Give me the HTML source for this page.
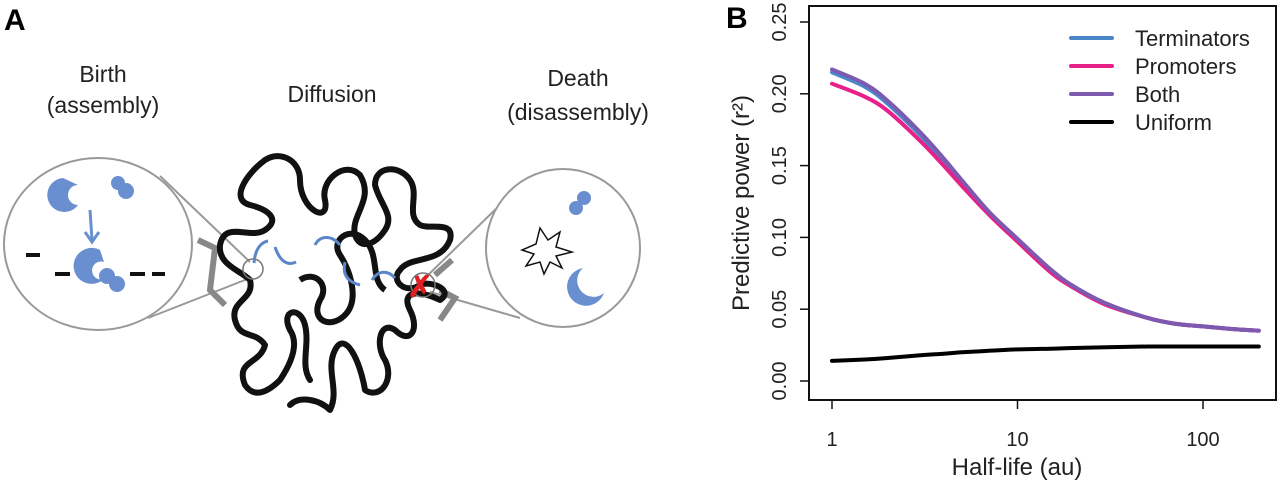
<!DOCTYPE html>
<html><head><meta charset="utf-8"><style>
body{margin:0;background:#fff;}
svg{display:block;font-family:"Liberation Sans",sans-serif;}
</style></head><body>
<svg width="1280" height="487" viewBox="0 0 1280 487">
<g>
<text x="4" y="30" font-size="30" font-weight="bold">A</text>
<text x="103" y="82" font-size="23" text-anchor="middle" fill="#222">Birth</text>
<text x="103" y="113" font-size="23" text-anchor="middle" fill="#222">(assembly)</text>
<text x="332" y="102" font-size="23" text-anchor="middle" fill="#222">Diffusion</text>
<text x="578" y="86" font-size="23" text-anchor="middle" fill="#222">Death</text>
<text x="578" y="120" font-size="23" text-anchor="middle" fill="#222">(disassembly)</text>
<g stroke="#999" stroke-width="2" fill="none">
<line x1="160" y1="176" x2="250" y2="262"/><line x1="148" y1="318" x2="250" y2="278"/>
<line x1="500" y1="205" x2="425" y2="278"/><line x1="520" y1="318" x2="430" y2="292"/>
</g>
<path d="M198 240 L215 248 L210 290 L225 305" stroke="#888" stroke-width="6" fill="none"/>
<path d="M435 275 L452 260 M440 290 L455 298 L440 320" stroke="#888" stroke-width="6" fill="none"/>
<path d="M290 405 C300 395 320 400 330 410 C340 390 325 370 335 350 C345 330 360 360 365 390 C380 400 395 380 385 360 C375 345 380 320 395 330 C410 345 420 330 410 310 C400 290 420 290 440 300 C455 290 430 280 420 285 C405 295 390 280 400 270 C410 255 440 265 450 240 C455 220 430 230 420 225 C405 215 420 195 410 180 C400 165 375 165 375 185 C380 205 395 215 385 230 C375 245 360 250 355 235 C350 215 375 200 360 175 C345 160 320 180 325 200 C330 225 300 210 300 180 C300 160 280 150 265 160 C245 175 230 200 250 205 C270 210 280 220 265 230 C250 240 225 220 220 245 C218 265 240 270 250 280 C255 300 230 300 235 320 C240 340 255 330 265 345 C260 365 235 360 245 385 C255 400 270 390 280 380 C290 365 300 345 290 330 C280 310 300 305 305 325 C310 345 300 365 310 380" stroke="#111" stroke-width="6" fill="none" stroke-linejoin="round" stroke-linecap="round"/>
<path d="M300 280 C315 270 330 285 320 300 C310 320 330 330 345 315 C360 300 350 270 340 255 C330 240 350 225 365 240 C380 255 370 280 385 290" stroke="#111" stroke-width="6" fill="none"/>
<circle cx="253" cy="269" r="10" fill="none" stroke="#777" stroke-width="1.5"/>
<circle cx="423" cy="285" r="12" fill="none" stroke="#777" stroke-width="1.5"/>
<g stroke="#5b86c9" stroke-width="3" fill="none">
<path d="M254 263 C255 248 262 242 268 241"/><path d="M275 247 C280 262 288 266 296 262"/><path d="M315 245 C320 235 332 235 340 245"/><path d="M345 262 C342 275 348 282 360 285"/><path d="M372 280 C378 270 388 270 395 278"/>
</g>
<text x="420" y="297" font-size="30" font-weight="bold" fill="#e02020" text-anchor="middle">✗</text>
<ellipse cx="98" cy="244" rx="94" ry="86" fill="#fff" stroke="#999" stroke-width="2"/>
<g fill="#6a8fd0">
<path d="M63 178 A17 17 0 1 0 78 205 A10 10 0 1 1 78 185 Z"/>
<circle cx="118" cy="183" r="7"/><circle cx="126" cy="191" r="8"/>
<path d="M100 250 A18 18 0 1 0 104 279 A9 9 0 1 1 104 262 Z"/>
<circle cx="107" cy="276" r="8"/><circle cx="117" cy="284" r="8"/>
</g>
<path d="M90 210 L92 240 M85 232 L92 242 L99 232" stroke="#6a8fd0" stroke-width="3" fill="none"/>
<g stroke="#111" stroke-width="4"><line x1="26" y1="255" x2="40" y2="255"/><line x1="55" y1="274" x2="70" y2="274"/><line x1="130" y1="274" x2="145" y2="274"/><line x1="152" y1="274" x2="165" y2="274"/></g>
<ellipse cx="563" cy="248" rx="77" ry="79" fill="#fff" stroke="#999" stroke-width="2"/>
<g fill="#6a8fd0">
<circle cx="584" cy="198" r="7"/><circle cx="576" cy="208" r="7"/>
<path d="M583 268 A19 19 0 1 0 604 293 A10 10 0 1 1 583 268 Z"/>
</g>
<path d="M540 228 L548 240 L560 232 L556 247 L572 252 L556 256 L562 268 L550 262 L544 274 L540 262 L526 266 L534 254 L522 250 L536 244 Z" fill="#fff" stroke="#111" stroke-width="1.5"/>
</g>
<g>
<text x="726" y="28" font-size="30" font-weight="bold">B</text>
<rect x="809" y="6" width="467" height="394" fill="none" stroke="#111" stroke-width="2"/>
<g id="yax"></g>
<g id="xax"></g>
<text x="0" y="0" transform="translate(749,203) rotate(-90)" font-size="24" text-anchor="middle" fill="#222">Predictive power (r²)</text>
<text x="1017" y="475" font-size="24" text-anchor="middle" fill="#222">Half-life (au)</text>
<g id="series"></g>
<g id="legend"></g>
</g>
</svg>
<script>
const xVals=[1,1.5,2,3,4,5,7,10,15,20,30,50,70,100,150,200];
const terminators=[0.215,0.205,0.193,0.171,0.153,0.138,0.117,0.098,0.077,0.066,0.054,0.044,0.040,0.038,0.036,0.035];
const promoters=[0.207,0.198,0.188,0.167,0.150,0.136,0.116,0.097,0.076,0.065,0.053,0.044,0.040,0.038,0.036,0.035];
const both=[0.217,0.207,0.195,0.173,0.155,0.140,0.118,0.099,0.078,0.066,0.054,0.044,0.040,0.038,0.036,0.035];
const uniform=[0.014,0.015,0.016,0.018,0.019,0.020,0.021,0.022,0.0225,0.023,0.0235,0.024,0.024,0.024,0.024,0.024];
const yTicks=[0,0.05,0.10,0.15,0.20,0.25];
const yTickLabels=["0.00","0.05","0.10","0.15","0.20","0.25"];
const xTicks=[1,10,100];
const xTickLabels=["1","10","100"];
const seriesNames=["Terminators","Promoters","Both","Uniform"];
const seriesColors=["#4a86c8","#e8208a","#7d59b0","#000"];
const NS="http://www.w3.org/2000/svg";
const X=v=>832+Math.log10(v)*185.5;
const Y=v=>381-v*1436;
function mk(t,a,p){const e=document.createElementNS(NS,t);for(const k in a)e.setAttribute(k,a[k]);p.appendChild(e);return e;}
function smooth(pts){let d='M'+pts[0][0].toFixed(1)+' '+pts[0][1].toFixed(1);
 for(let i=0;i<pts.length-1;i++){const p0=pts[i-1]||pts[i],p1=pts[i],p2=pts[i+1],p3=pts[i+2]||p2;
  const c1=[p1[0]+(p2[0]-p0[0])/6,p1[1]+(p2[1]-p0[1])/6],c2=[p2[0]-(p3[0]-p1[0])/6,p2[1]-(p3[1]-p1[1])/6];
  d+=` C${c1[0].toFixed(1)} ${c1[1].toFixed(1)} ${c2[0].toFixed(1)} ${c2[1].toFixed(1)} ${p2[0].toFixed(1)} ${p2[1].toFixed(1)}`;}
 return d;}
const ya=document.getElementById('yax');
yTicks.forEach((t,i)=>{
 const l=mk('line',{x1:800,x2:809,y1:Y(t),y2:Y(t),stroke:'#111','stroke-width':1.5},ya);
 
 
 const tx=mk('text',{x:0,y:0,transform:`translate(786,${Y(t)}) rotate(-90)`,'font-size':20,'text-anchor':'middle',fill:'#222'},ya);
 tx.textContent=yTickLabels[i];
 
 
});
const xa=document.getElementById('xax');
xTicks.forEach((t,i)=>{
 const l=mk('line',{x1:X(t),x2:X(t),y1:400,y2:409,stroke:'#111','stroke-width':1.5},xa);
 
 
 const tx=mk('text',{x:X(t),y:446,'font-size':20,'text-anchor':'middle',fill:'#222'},xa);
 tx.textContent=xTickLabels[i];
 
 
});
const sg=document.getElementById('series');
[terminators,promoters,both,uniform].forEach((s,i)=>{
 const d=smooth(s.map((v,j)=>[X(xVals[j]),Y(v)]));
 const p=mk('path',{d,stroke:seriesColors[i],'stroke-width':4,fill:'none','stroke-linejoin':'round','stroke-linecap':'round'},sg);
 
 
});
const lg=document.getElementById('legend');
seriesNames.forEach((n,i)=>{
 const y=38+i*28;
 const l=mk('line',{x1:1071,x2:1112,y1:y,y2:y,stroke:seriesColors[i],'stroke-width':4,'stroke-linecap':'round'},lg);
 
 
 const t=mk('text',{x:1135,y:y+8,'font-size':22,fill:'#222'},lg);
 t.textContent=n;
 
 
});
</script>
</body></html>
